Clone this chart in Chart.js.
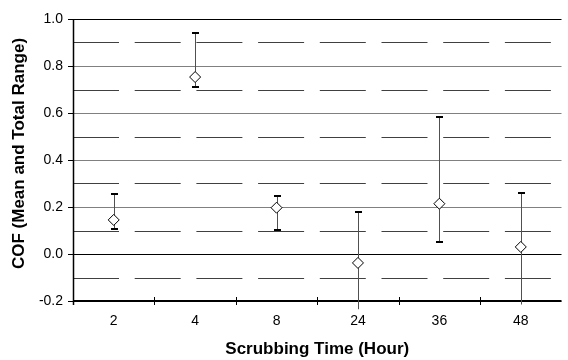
<!DOCTYPE html>
<html>
<head>
<meta charset="utf-8">
<script src="https://cdn.jsdelivr.net/npm/chart.js@4"></script>
<style>
  html, body { margin: 0; padding: 0; background: #fff; }
  #wrap { width: 568px; height: 360px; }
</style>
</head>
<body>
<div id="wrap"><canvas id="myChart"></canvas></div>
<script>
// data
const hours = ['2', '4', '8', '24', '36', '48'];
const cofMean = [0.145, 0.753, 0.197, -0.038, 0.214, 0.03];
const cofHigh = [0.255, 0.939, 0.247, 0.18, 0.582, 0.258];
const cofLow = [0.105, 0.709, 0.101, -0.235, 0.052, -0.215];
const majorTicks = [-0.2, 0.0, 0.2, 0.4, 0.6, 0.8, 1.0];
const minorTicks = [-0.1, 0.1, 0.3, 0.5, 0.7, 0.9];
const yTitle = 'COF (Mean and Total Range)';

function hLine(ctx, x1, x2, y, color, width, dash) {
    ctx.setLineDash(dash || []);
    ctx.strokeStyle = color;
    ctx.lineWidth = width;
    ctx.beginPath();
    ctx.moveTo(x1, y);
    ctx.lineTo(x2, y);
    ctx.stroke();
}

function vLine(ctx, x, y1, y2, color, width) {
    ctx.setLineDash([]);
    ctx.strokeStyle = color;
    ctx.lineWidth = width;
    ctx.beginPath();
    ctx.moveTo(x, y1);
    ctx.lineTo(x, y2);
    ctx.stroke();
}

// grid, axes and error bars drawn behind the diamonds
const excelLook = {
    id: 'excelLook',
    beforeDatasetsDraw(chart) {
        const ctx = chart.ctx;
        const area = chart.chartArea;
        const x = chart.scales.x;
        const y = chart.scales.y;
        ctx.save();

        // solid major lines + ticks on the y axis
        majorTicks.forEach(v => {
            const py = Math.round(y.getPixelForValue(v)) + 0.5;
            const dark = Math.abs(v) < 1e-9 || Math.abs(v - 1) < 1e-9;
            hLine(ctx, area.left, area.right, py, dark ? '#000000' : '#808080', 1);
            hLine(ctx, area.left - 5, area.left, py, '#000000', 1);
        });

        // dashed minor lines
        minorTicks.forEach(v => {
            const py = Math.round(y.getPixelForValue(v)) + 0.5;
            hLine(ctx, area.left, area.right, py, '#404040', 1, [46, 15.7]);
        });

        // axes
        vLine(ctx, area.left + 0.5, area.top, area.bottom + 4, '#000000', 1.5);
        hLine(ctx, area.left, area.right, area.bottom, '#000000', 2);

        // category ticks between the categories
        const step = (area.right - area.left) / hours.length;
        for (let i = 1; i < hours.length; i++) {
            const px = Math.round(area.left + step * i) + 0.5;
            vLine(ctx, px, area.bottom - 4, area.bottom + 4, '#000000', 1);
        }

        // error bars (total range)
        hours.forEach((h, i) => {
            const px = Math.round(x.getPixelForValue(i)) + 0.5;
            vLine(ctx, px, y.getPixelForValue(cofHigh[i]), y.getPixelForValue(cofLow[i]), '#505050', 1);
            [cofHigh[i], cofLow[i]].forEach(v => {
                if (v < y.min || v > y.max) return;
                const py = Math.round(y.getPixelForValue(v));
                hLine(ctx, px - 3.5, px + 3.5, py, '#000000', 2);
            });
        });
        ctx.restore();
    },
    afterDraw(chart) {
        // y title, centred the way the reference places it
        const ctx = chart.ctx;
        ctx.save();
        ctx.translate(19, 153.5);
        ctx.rotate(-Math.PI / 2);
        ctx.font = 'bold 17px "Liberation Sans"';
        ctx.fillStyle = '#000';
        ctx.textAlign = 'center';
        ctx.textBaseline = 'middle';
        ctx.fillText(yTitle, 0, 0);
        ctx.restore();
    }
};

const config = {
    type: 'line',
    data: {
        labels: hours,
        datasets: [{
            label: 'COF',
            data: cofMean,
            showLine: false,
            pointStyle: 'rectRot',
            pointRadius: 5.5,
            pointBackgroundColor: '#fff',
            pointBorderColor: '#000',
            pointBorderWidth: 1
        }]
    },
    options: {
        responsive: true,
        maintainAspectRatio: false,
        animation: false,
        layout: { padding: { top: 19, left: 0, right: 0, bottom: 0 } },
        plugins: {
            legend: { display: false },
            tooltip: { enabled: false }
        },
        scales: {
            x: {
                offset: true,
                grid: { display: false, drawTicks: false },
                border: { display: false },
                ticks: {
                    padding: 12,
                    color: '#000',
                    font: { family: 'Liberation Sans', size: 14 }
                },
                title: {
                    display: true,
                    text: 'Scrubbing Time (Hour)',
                    color: '#000',
                    padding: { top: 0, bottom: 0 },
                    font: { family: 'Liberation Sans', size: 17, weight: 'bold' }
                },
                afterFit: s => { s.height = 59; }
            },
            y: {
                min: -0.2,
                max: 1.0,
                grid: { display: false, drawTicks: false },
                border: { display: false },
                ticks: {
                    stepSize: 0.2,
                    padding: 10,
                    color: '#000',
                    font: { family: 'Liberation Sans', size: 14 },
                    callback: v => (Math.round(v * 10) / 10).toFixed(1)
                },
                afterFit: s => { s.width = 73; }
            }
        }
    },
    plugins: [excelLook]
};

var ctx = document.getElementById('myChart').getContext('2d');
var myChart = new Chart(ctx, config);
</script>
</body>
</html>
